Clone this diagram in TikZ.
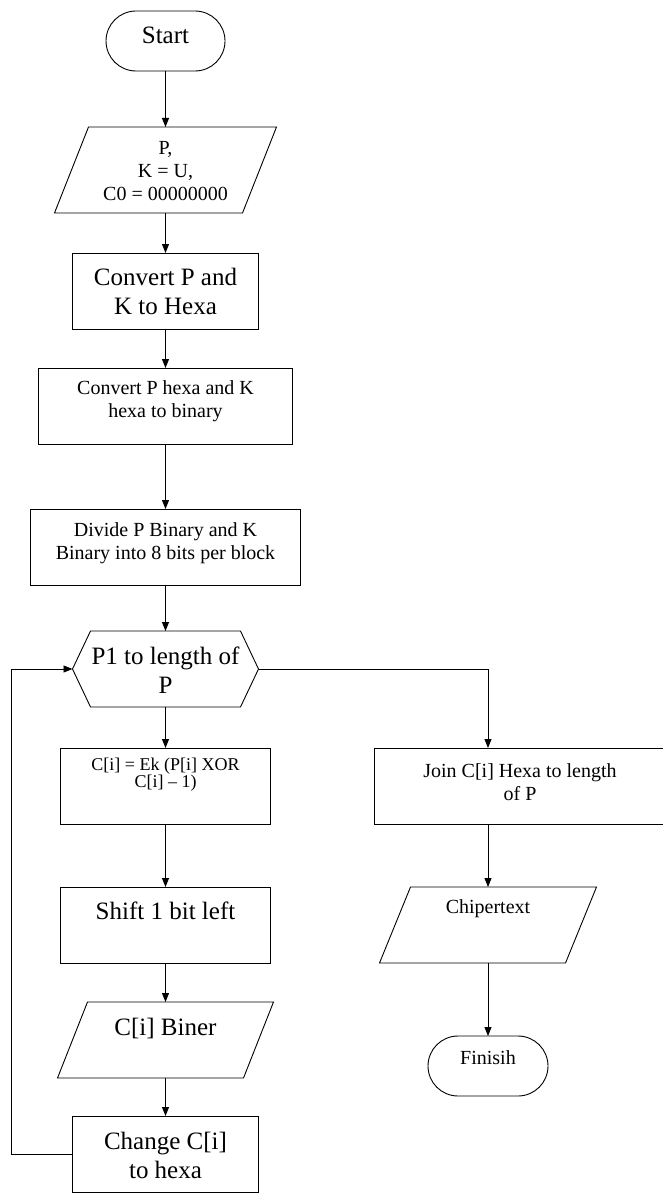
\documentclass[tikz,border=0pt]{standalone}
\usepackage{fontspec}
\setmainfont{Liberation Serif}
\usetikzlibrary{arrows.meta,calc}
\begin{document}
\begin{tikzpicture}[x=1pt,y=-1pt,line width=0.9pt,
  box/.style={draw, rectangle, inner sep=0pt, outer sep=0pt, minimum height=76pt},
  term/.style={draw, rectangle, rounded corners=30pt, inner sep=0pt, outer sep=0pt, minimum height=60pt},
  ghost/.style={rectangle, inner sep=0pt, outer sep=0pt},
  arr/.style={-{Triangle[length=9pt,width=7pt]}},
  fa/.style={font=\fontsize{25}{29}\selectfont, align=center, inner sep=0pt},
  fb/.style={font=\fontsize{20}{23}\selectfont, align=center, inner sep=0pt},
  fc/.style={font=\fontsize{18}{14}\selectfont, align=center, inner sep=0pt}]
\useasboundingbox (0,0) rectangle (663,1193);

% left column
\node[term, minimum width=119pt, label={[fa,yshift=6pt]center:Start}] (start) at (165.5,41) {};
\node[ghost, minimum width=188pt, minimum height=86pt, label={[fb,yshift=-1pt]center:{P,\\K = U,\\C0 = 00000000}}] (in1) at (165.5,170) {};
\node[box, minimum width=186pt, label={[fa]center:{Convert P and\\K to Hexa}}] (box3) at (165.5,291) {};
\node[box, minimum width=254pt, label={[fb,yshift=5pt]center:{Convert P hexa and K\\hexa to binary}}] (box4) at (165.5,406) {};
\node[box, minimum width=270pt, label={[fb,yshift=4pt]center:{Divide P Binary and K\\Binary into 8 bits per block}}] (box5) at (165.5,547) {};
\node[ghost, minimum width=186pt, minimum height=76pt, label={[fa,yshift=-1pt]center:{P1 to length of\\P}}] (hex) at (165.5,669) {};
\node[box, minimum width=210pt, label={[fc,yshift=11pt]center:{C[i] = Ek (P[i] XOR\\C[i] – 1)}}] (enc) at (165.5,786) {};
\node[box, minimum width=210pt, label={[fa,yshift=14pt]center:{Shift 1 bit left}}] (shift) at (165.5,925) {};
\node[ghost, minimum width=186pt, minimum height=76pt, label={[fa,yshift=12pt]center:{C[i] Biner}}] (biner) at (165.5,1040) {};
\node[box, minimum width=186pt, label={[fa,yshift=-1pt]center:{Change C[i]\\to hexa}}] (change) at (165.5,1154) {};

% right column
\node[box, minimum width=292pt, label={[fb,yshift=4pt]center:{Join C[i] Hexa to length\\of P}}] (join) at (520,786) {};
\node[ghost, minimum width=186pt, minimum height=76pt, label={[fb,yshift=16pt]center:Chipertext}] (chip) at (488,925) {};
\node[term, minimum width=120pt, label={[fb,yshift=8pt]center:Finisih}] (fin) at (488,1066) {};

\coordinate (loopx) at (11,1154);

% parallelograms
\draw ($(in1.north west)+(17,0)$) -- ($(in1.north east)+(17,0)$) -- ($(in1.south east)+(-17,0)$) -- ($(in1.south west)+(-17,0)$) -- cycle;
\draw ($(biner.north west)+(15,0)$) -- ($(biner.north east)+(15,0)$) -- ($(biner.south east)+(-15,0)$) -- ($(biner.south west)+(-15,0)$) -- cycle;
\draw ($(chip.north west)+(15.5,0)$) -- ($(chip.north east)+(15.5,0)$) -- ($(chip.south east)+(-15.5,0)$) -- ($(chip.south west)+(-15.5,0)$) -- cycle;
% hexagon
\draw (hex.west) -- ($(hex.north west)+(18,0)$) -- ($(hex.north east)+(-18,0)$) -- (hex.east) -- ($(hex.south east)+(-18,0)$) -- ($(hex.south west)+(18,0)$) -- cycle;

% connectors
\draw[arr] (start) -- (in1);
\draw[arr] (in1) -- (box3);
\draw[arr] (box3) -- (box4);
\draw[arr] (box4) -- (box5);
\draw[arr] (box5) -- (hex);
\draw[arr] (hex) -- (enc);
\draw[arr] (enc) -- (shift);
\draw[arr] (shift) -- (biner);
\draw[arr] (biner) -- (change);
\draw[arr] (change.west) -- (loopx) |- (hex.west);
\draw[arr] (hex.east) -| (join.north -| chip.north);
\draw[arr] (join.south -| chip.north) -- (chip.north);
\draw[arr] (chip) -- (fin);
\end{tikzpicture}
\end{document}
